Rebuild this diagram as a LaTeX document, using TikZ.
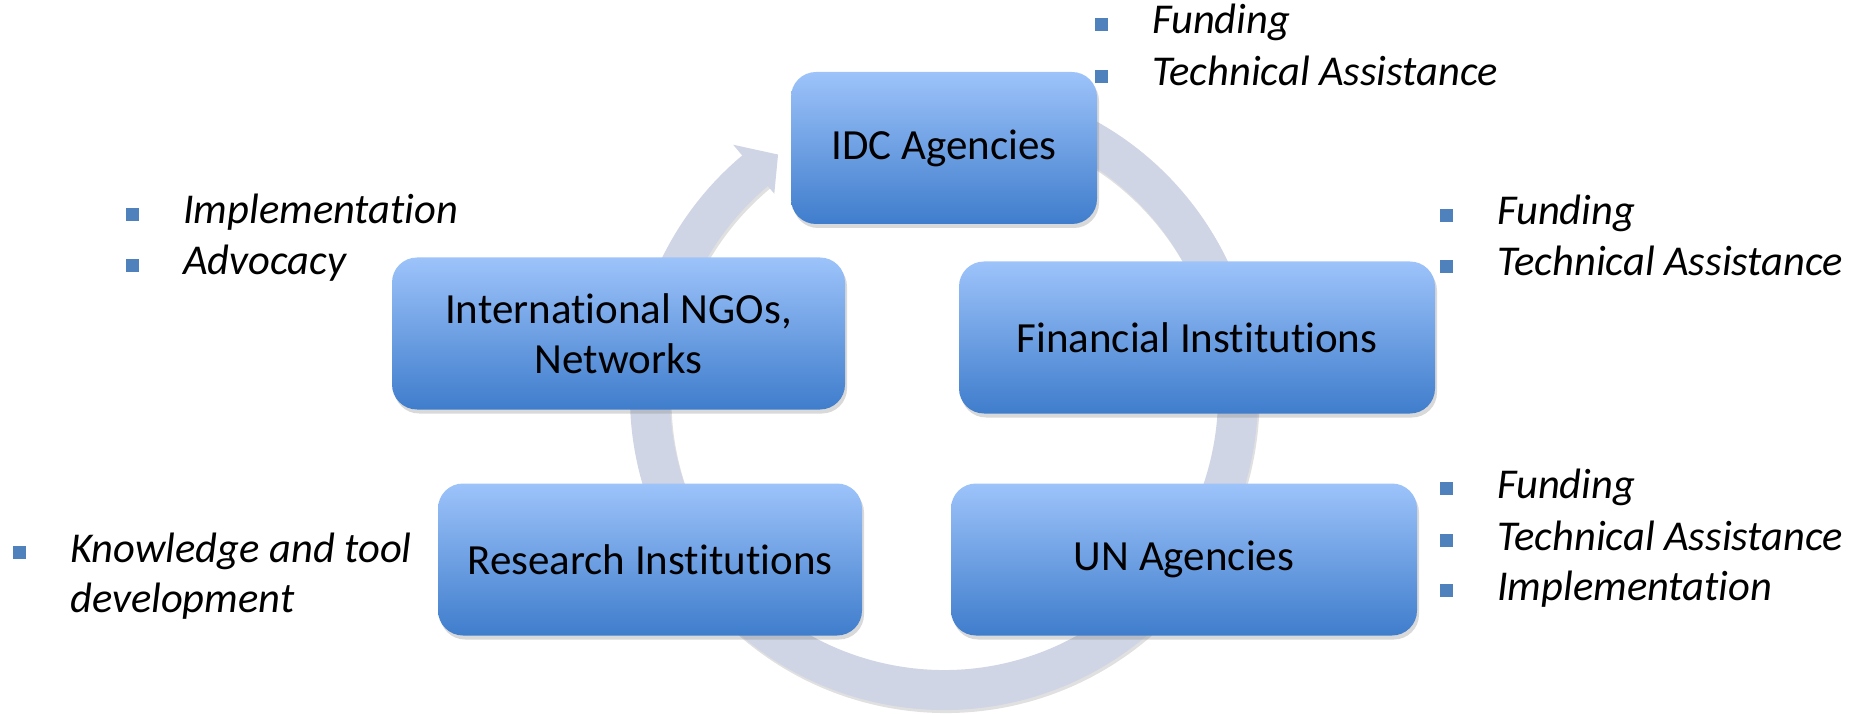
\documentclass[tikz,border=0pt]{standalone}
\usepackage{fontspec}
\setmainfont{Carlito}[Ligatures={NoCommon}]
\usepackage{xcolor}
\usetikzlibrary{shadows,positioning}
\definecolor{BoxTop}{HTML}{9DC3FA}
\definecolor{BoxBottom}{HTML}{3F7DCC}
\definecolor{RingGrey}{HTML}{CFD5E5}
\definecolor{BulletBlue}{HTML}{4F81BD}
\newcommand{\blt}{\makebox[57pt][l]{\textcolor{BulletBlue}{\rule[3pt]{13pt}{13pt}}}}
\tikzset{
  actor/.style={rounded corners=25pt, top color=BoxTop, bottom color=BoxBottom,
    drop shadow={shadow xshift=2pt, shadow yshift=-4pt, opacity=0.3},
    minimum height=152pt, inner sep=0pt, align=center,
    font=\fontsize{43}{50}\selectfont},
  item/.style={anchor=base west, inner sep=0pt, font=\fontsize{42.5}{50}\selectfont\itshape},
  ring/.style={draw=RingGrey, line width=40pt},
}
\begin{document}
\begin{tikzpicture}[x=1pt,y=1pt]
     \useasboundingbox (0,0) rectangle (1852,713);
     \coordinate (hub) at (944,317);

     \draw[line width=40pt, black, opacity=0.12] ([shift={(80:294pt)}]hub) ++(1.5,-3) arc[start angle=80, end angle=-230.5, radius=294pt];
     \draw[ring] ([shift={(80:294pt)}]hub) arc[start angle=80, end angle=-230.5, radius=294pt];
     \fill[RingGrey] ([shift={(130:328pt)}]hub) -- ([shift={(124.5:293pt)}]hub) -- ([shift={(130:264pt)}]hub) -- cycle;

     \node[actor, minimum width=306pt] (idc) at (944,565) {IDC Agencies};
     \node[actor, minimum width=476pt] (fin) at (1197,375.5) {Financial Institutions};
     \node[actor, minimum width=453pt] (ngo) at (618.5,379.5) {International NGOs,\\Networks};
     \node[actor, minimum width=424pt] (res) at (650,153.5) {Research Institutions};
     \node[actor, minimum width=466pt] (un) at (1184,153.5) {UN Agencies};

     \node[item] (idcfund) at (1095,679) {\blt Funding};
     \node[item] (idcta) at (1095,627) {\blt Technical Assistance};
     \node[item] (finfund) at (1440,488) {\blt Funding};
     \node[item] (finta) at (1440,437) {\blt Technical Assistance};
     \node[item] (ngoimpl) at (126,489) {\blt Implementation};
     \node[item] (ngoadv) at (126,438) {\blt Advocacy};
     \node[item] (unfund) at (1440,215) {\blt Funding};
     \node[item] (unta) at (1440,163) {\blt Technical Assistance};
     \node[item] (unimpl) at (1440,113) {\blt Implementation};
     \node[item] (resknow) at (13,151) {\blt\begin{tabular}[t]{@{}l@{}}Knowledge and tool\\development\end{tabular}};
\end{tikzpicture}
\end{document}
